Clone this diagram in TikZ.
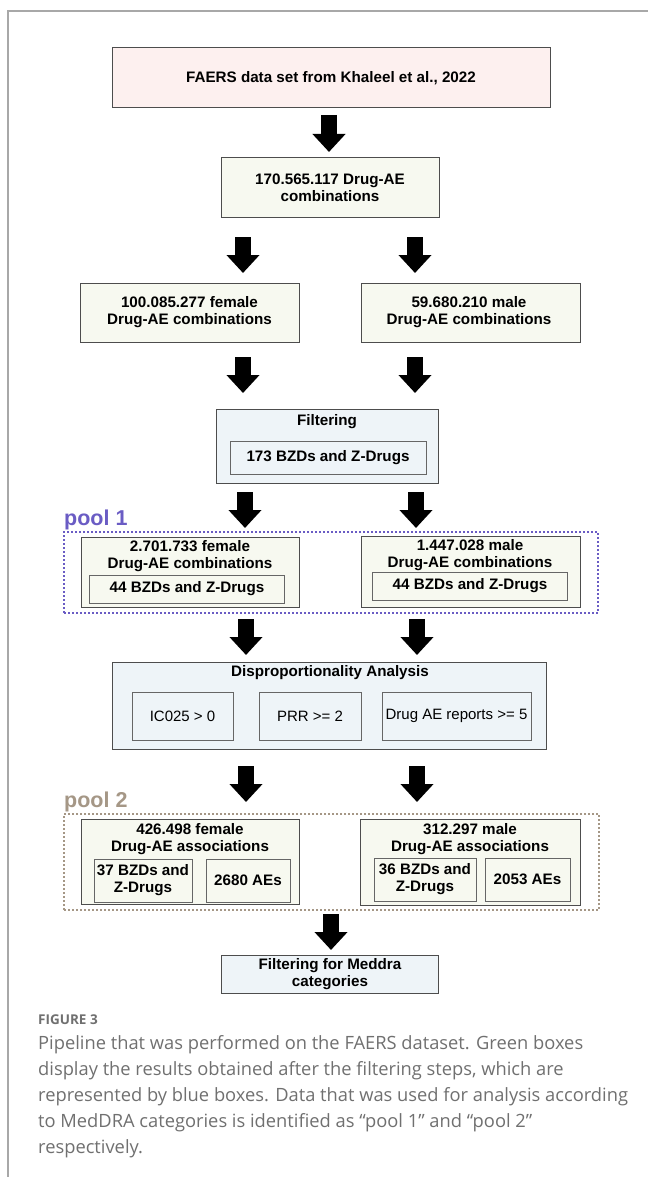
\documentclass[tikz,border=0pt]{standalone}
\usepackage{fontspec}
\setmainfont{Liberation Sans}
\newfontfamily\capfont{Open Sans}
\usetikzlibrary{fit,arrows.meta}
\definecolor{pinkfill}{HTML}{FDF0EF}
\definecolor{greenfill}{HTML}{F7F9F0}
\definecolor{bluefill}{HTML}{EEF4F8}
\definecolor{bordergray}{HTML}{4D4D4D}
\definecolor{innergray}{HTML}{666666}
\definecolor{poolone}{HTML}{6A5CC4}
\definecolor{pooltwo}{HTML}{A59786}
\definecolor{framegray}{HTML}{A8A8A8}
\definecolor{capgray}{HTML}{707070}
\begin{document}
\begin{tikzpicture}[x=1pt,y=-1pt,
  boxbase/.style={draw=bordergray, line width=1pt, inner sep=0pt},
  pinkbox/.style={boxbase, fill=pinkfill},
  greenbox/.style={boxbase, fill=greenfill},
  bluebox/.style={boxbase, fill=bluefill},
  greeninner/.style={draw=innergray, line width=1pt, inner sep=0pt, fill=greenfill},
  blueinner/.style={draw=innergray, line width=1pt, inner sep=0pt, fill=bluefill},
  btext/.style={font=\fontsize{15.2}{17}\selectfont\bfseries, align=center, inner sep=0pt, text=black},
  rtext/.style={font=\fontsize{15}{17}\selectfont, align=center, inner sep=0pt, text=black},
  pooltext/.style={font=\fontsize{21.5}{24}\selectfont\bfseries, inner sep=0pt, anchor=base west},
  poolonebox/.style={draw=poolone, line width=2pt, dash pattern=on 2pt off 2pt, inner sep=0pt},
  pooltwobox/.style={draw=pooltwo, line width=2pt, dash pattern=on 2pt off 2pt, inner sep=0pt},
  barrow/.style={line width=16pt, draw=black, -{Triangle[width=32pt,length=18pt]}},
  captext/.style={font=\capfont\fontsize{18.3}{22}\selectfont, text=capgray, inner sep=0pt, anchor=west},
]
\useasboundingbox (0,0) rectangle (648,1177);
\fill[white] (0,0) rectangle (648,1177);
% frame
\draw[framegray, line width=1.2pt] (8,1177) -- (8,11) -- (648,11);

% top box
\node[pinkbox, fit={(112,48) (550,108)}] (top) {};
\node[btext] (toptxt) at (331,78) {FAERS data set from Khaleel et al., 2022};

% total
\node[greenbox, fit={(221,158) (439,217)}] (tot) {};
\node[btext] (tottxt) at (330,188) {170.565.117 Drug-AE\\combinations};

% female / male all
\node[greenbox, fit={(80,283) (299,342)}] (fall) {};
\node[btext] (falltxt) at (189.5,312) {100.085.277 female\\Drug-AE combinations};
\node[greenbox, fit={(361,283) (580,342)}] (mall) {};
\node[btext] (malltxt) at (469,312) {59.680.210 male\\Drug-AE combinations};

% filtering
\node[bluebox, fit={(216,409) (438,483)}] (filt) {};
\node[btext] (filttxt) at (327,422) {Filtering};
\node[blueinner, fit={(230,441) (426,474)}] (filtin) {};
\node[btext] (filtintxt) at (328,457.5) {173 BZDs and Z-Drugs};

% pool 1
\node[poolonebox, fit={(64,532) (598,613)}] (pool1) {};
\node[pooltext, text=poolone] (pool1txt) at (64,525) {pool 1};
\node[greenbox, fit={(81,537) (299,607)}] (f1) {};
\node[btext] (f1txt) at (190,556.5) {2.701.733 female\\Drug-AE combinations};
\node[greeninner, fit={(89,575) (284,603)}] (f1in) {};
\node[btext] (f1intxt) at (187,589) {44 BZDs and Z-Drugs};
\node[greenbox, fit={(361,536) (580,607)}] (m1) {};
\node[btext] (m1txt) at (470,555.5) {1.447.028 male\\Drug-AE combinations};
\node[greeninner, fit={(372,572) (567,600)}] (m1in) {};
\node[btext] (m1intxt) at (470,586) {44 BZDs and Z-Drugs};

% disproportionality
\node[bluebox, fit={(112,662) (546,749)}] (disp) {};
\node[btext] (disptxt) at (330,673) {Disproportionality Analysis};
\node[blueinner, fit={(132,692) (233,740)}] (ic) {};
\node[rtext] (ictxt) at (182.5,716) {IC025 > 0};
\node[blueinner, fit={(259,692) (361,740)}] (prr) {};
\node[rtext] (prrtxt) at (310,716) {PRR >= 2};
\node[blueinner, fit={(382,692) (531,740)}] (rep) {};
\node[rtext] (reptxt) at (456.5,716) {Drug AE reports >= 5};

% pool 2
\node[pooltwobox, fit={(64,814) (599,910)}] (pool2) {};
\node[pooltext, text=pooltwo] (pool2txt) at (64,807) {pool 2};
\node[greenbox, fit={(81,819) (299,904)}] (f2) {};
\node[btext] (f2txt) at (190,839.5) {426.498 female\\Drug-AE associations};
\node[greeninner, fit={(94,859) (192,902)}] (f2a) {};
\node[btext] (f2atxt) at (143,880.5) {37 BZDs and\\Z-Drugs};
\node[greeninner, fit={(206,859) (290,902)}] (f2b) {};
\node[btext] (f2btxt) at (248,880.5) {2680 AEs};
\node[greenbox, fit={(360,819) (580,905)}] (m2) {};
\node[btext] (m2txt) at (470,839) {312.297 male\\Drug-AE associations};
\node[greeninner, fit={(374,858) (476,901)}] (m2a) {};
\node[btext] (m2atxt) at (425,879.5) {36 BZDs and\\Z-Drugs};
\node[greeninner, fit={(485,858) (570,901)}] (m2b) {};
\node[btext] (m2btxt) at (527.5,879.5) {2053 AEs};

% meddra
\node[bluebox, fit={(221,955) (438,993)}] (med) {};
\node[btext] (medtxt) at (330,974) {Filtering for Meddra\\categories};

% arrows
\coordinate (a1s) at (329,115); \coordinate (a1e) at (329,152);
\coordinate (a2ls) at (243,237); \coordinate (a2le) at (243,273);
\coordinate (a2rs) at (415,237); \coordinate (a2re) at (415,273);
\coordinate (a3ls) at (243,357); \coordinate (a3le) at (243,393);
\coordinate (a3rs) at (415,357); \coordinate (a3re) at (415,393);
\coordinate (a4ls) at (245,492); \coordinate (a4le) at (245,528);
\coordinate (a4rs) at (416,492); \coordinate (a4re) at (416,528);
\coordinate (a5ls) at (246,619); \coordinate (a5le) at (246,655);
\coordinate (a5rs) at (417,619); \coordinate (a5re) at (417,655);
\coordinate (a6ls) at (246,766); \coordinate (a6le) at (246,802);
\coordinate (a6rs) at (417,766); \coordinate (a6re) at (417,802);
\coordinate (a7s) at (331,914); \coordinate (a7e) at (331,950);
\foreach \a in {a1,a2l,a2r,a3l,a3r,a4l,a4r,a5l,a5r,a6l,a6r,a7}
  \draw[barrow] (\a s) -- (\a e);

% caption
\node[font=\capfont\fontsize{13.5}{15}\selectfont\bfseries, text=capgray, inner sep=0pt, anchor=west] (figlbl) at (38,1020) {FIGURE 3};
\node[captext] (c1) at (38,1045) {Pipeline that was performed on the FAERS dataset. Green boxes};
\node[captext] (c2) at (38,1071) {display the results obtained after the filtering steps, which are};
\node[captext] (c3) at (38,1097) {represented by blue boxes. Data that was used for analysis according};
\node[captext] (c4) at (38,1123) {to MedDRA categories is identified as “pool 1” and “pool 2”};
\node[captext] (c5) at (38,1149) {respectively.};
\end{tikzpicture}
\end{document}
